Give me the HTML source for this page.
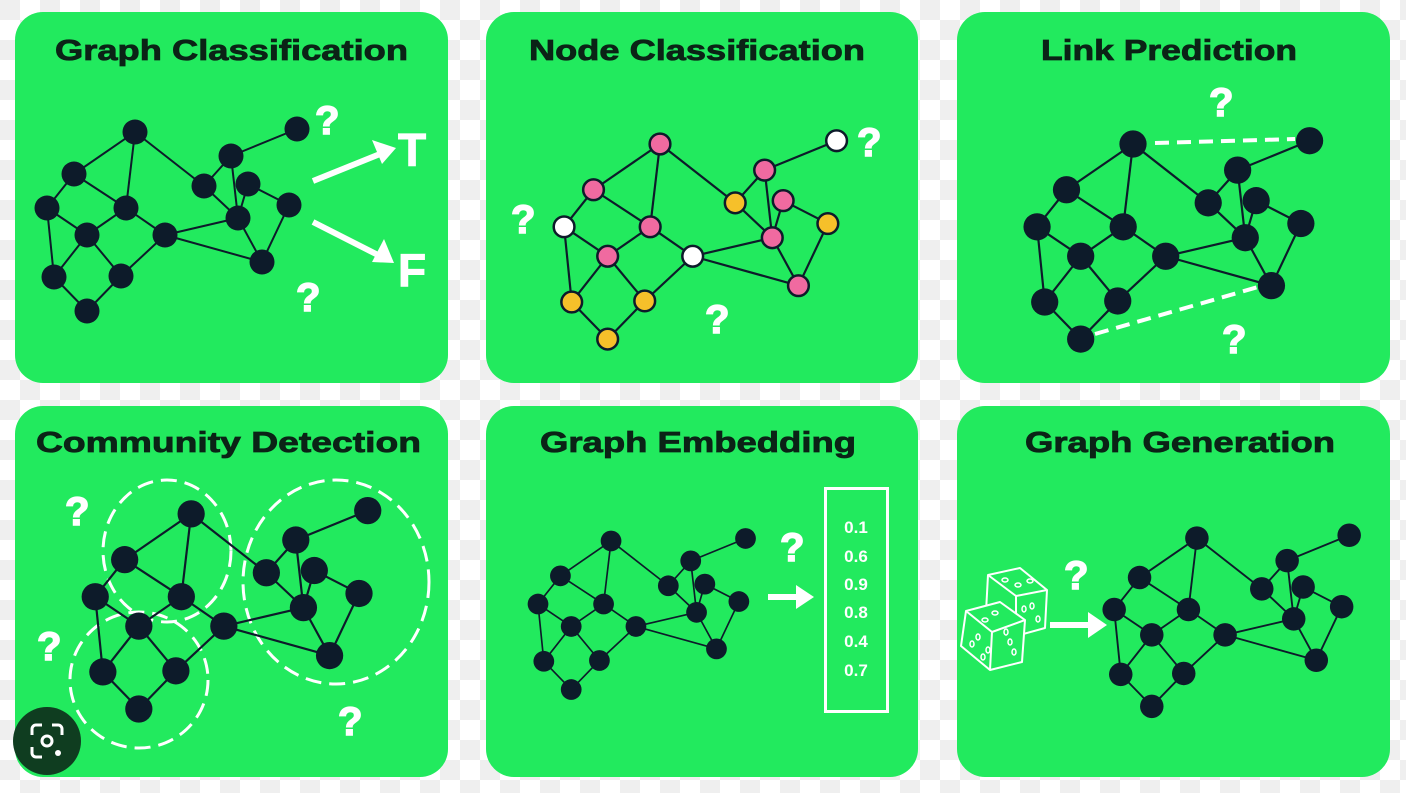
<!DOCTYPE html>
<html><head><meta charset="utf-8"><style>
html,body{margin:0;padding:0;width:1406px;height:793px;overflow:hidden;background:#fff}
svg{display:block}
.q{font-family:"Liberation Sans",sans-serif;font-weight:bold;fill:#fff;font-size:40px;stroke:#fff;stroke-width:1.5}
</style></head><body>
<svg width="1406" height="793" viewBox="0 0 1406 793" xmlns="http://www.w3.org/2000/svg">
<defs>
<pattern id="ck" width="40" height="40" patternUnits="userSpaceOnUse">
<rect width="40" height="40" fill="#ffffff"/><rect width="20" height="20" fill="#efefef"/><rect x="20" y="20" width="20" height="20" fill="#efefef"/>
</pattern>
<g id="E" stroke="#0d1b2a" stroke-width="2" fill="none">
<line x1="135" y1="132" x2="74" y2="174"/><line x1="135" y1="132" x2="126" y2="208"/><line x1="135" y1="132" x2="204" y2="186"/>
<line x1="74" y1="174" x2="47" y2="208"/><line x1="74" y1="174" x2="126" y2="208"/>
<line x1="47" y1="208" x2="87" y2="235"/><line x1="47" y1="208" x2="54" y2="277"/>
<line x1="126" y1="208" x2="87" y2="235"/><line x1="126" y1="208" x2="165" y2="235"/>
<line x1="87" y1="235" x2="121" y2="276"/><line x1="87" y1="235" x2="54" y2="277"/>
<line x1="54" y1="277" x2="87" y2="311"/><line x1="87" y1="311" x2="121" y2="276"/>
<line x1="121" y1="276" x2="165" y2="235"/><line x1="165" y1="235" x2="238" y2="218"/><line x1="165" y1="235" x2="262" y2="262"/>
<line x1="204" y1="186" x2="231" y2="156"/><line x1="204" y1="186" x2="238" y2="218"/>
<line x1="231" y1="156" x2="238" y2="218"/><line x1="231" y1="156" x2="297" y2="129"/>
<line x1="248" y1="184" x2="289" y2="205"/><line x1="248" y1="184" x2="238" y2="218"/>
<line x1="238" y1="218" x2="262" y2="262"/><line x1="289" y1="205" x2="262" y2="262"/>
</g>
<g id="N" fill="#0d1b2a">
<circle cx="135" cy="132" r="12.5"/><circle cx="74" cy="174" r="12.5"/><circle cx="47" cy="208" r="12.5"/><circle cx="126" cy="208" r="12.5"/>
<circle cx="87" cy="235" r="12.5"/><circle cx="165" cy="235" r="12.5"/><circle cx="54" cy="277" r="12.5"/><circle cx="121" cy="276" r="12.5"/>
<circle cx="87" cy="311" r="12.5"/><circle cx="204" cy="186" r="12.5"/><circle cx="231" cy="156" r="12.5"/><circle cx="248" cy="184" r="12.5"/>
<circle cx="238" cy="218" r="12.5"/><circle cx="289" cy="205" r="12.5"/><circle cx="262" cy="262" r="12.5"/><circle cx="297" cy="129" r="12.5"/>
</g>
</defs>
<rect width="1406" height="793" fill="url(#ck)"/>
<g fill="#22ea5e">
<rect x="15" y="12" width="433" height="371" rx="28"/>
<rect x="486" y="12" width="432" height="371" rx="28"/>
<rect x="957" y="12" width="433" height="371" rx="28"/>
<rect x="15" y="406" width="433" height="371" rx="28"/>
<rect x="486" y="406" width="432" height="371" rx="28"/>
<rect x="957" y="406" width="433" height="371" rx="28"/>
</g>
<g font-family="Liberation Sans, sans-serif" font-weight="bold" font-size="29" fill="#0b2316" stroke="#0b2316" stroke-width="0.8">
<text x="55" y="60" textLength="353" lengthAdjust="spacingAndGlyphs">Graph Classification</text>
<text x="529" y="60" textLength="336" lengthAdjust="spacingAndGlyphs">Node Classification</text>
<text x="1041" y="60" textLength="256" lengthAdjust="spacingAndGlyphs">Link Prediction</text>
<text x="36" y="452" textLength="385" lengthAdjust="spacingAndGlyphs">Community Detection</text>
<text x="540" y="452" textLength="316" lengthAdjust="spacingAndGlyphs">Graph Embedding</text>
<text x="1025" y="452" textLength="310" lengthAdjust="spacingAndGlyphs">Graph Generation</text>
</g>
<!-- panel 1 -->
<use href="#E"/><use href="#N"/>
<g stroke="#fff" stroke-width="6" fill="#fff">
<line x1="313" y1="181" x2="380" y2="154"/><polygon points="396,148 372,140 382,164" stroke="none"/>
<line x1="313" y1="222" x2="378" y2="255"/><polygon points="394,263 384,239 372,262" stroke="none"/>
</g>
<g font-family="Liberation Sans, sans-serif" font-weight="bold" fill="#fff" stroke="#fff" stroke-width="1">
<text x="398" y="166" font-size="46">T</text>
<text x="398" y="286" font-size="46">F</text>
</g>
<text class="q" x="315" y="134">?</text>
<text class="q" x="296" y="311">?</text>
<!-- panel 2 -->
<g transform="translate(512.85,0.1) scale(1.09)">
<use href="#E"/>
<g stroke="#0d1b2a" stroke-width="2.3">
<circle cx="135" cy="132" r="9.5" fill="#f06aa0"/><circle cx="74" cy="174" r="9.5" fill="#f06aa0"/><circle cx="47" cy="208" r="9.5" fill="#fff"/><circle cx="126" cy="208" r="9.5" fill="#f06aa0"/>
<circle cx="87" cy="235" r="9.5" fill="#f06aa0"/><circle cx="165" cy="235" r="9.5" fill="#fff"/><circle cx="54" cy="277" r="9.5" fill="#f6c02a"/><circle cx="121" cy="276" r="9.5" fill="#f6c02a"/>
<circle cx="87" cy="311" r="9.5" fill="#f6c02a"/><circle cx="204" cy="186" r="9.5" fill="#f6c02a"/><circle cx="231" cy="156" r="9.5" fill="#f06aa0"/><circle cx="248" cy="184" r="9.5" fill="#f06aa0"/>
<circle cx="238" cy="218" r="9.5" fill="#f06aa0"/><circle cx="289" cy="205" r="9.5" fill="#f6c02a"/><circle cx="262" cy="262" r="9.5" fill="#f06aa0"/><circle cx="297" cy="129" r="9.5" fill="#fff"/>
</g>
</g>
<text class="q" x="857" y="156">?</text><text class="q" x="511" y="233">?</text><text class="q" x="705" y="333">?</text>
<!-- panel 3 -->
<g stroke="#fff" stroke-width="4" stroke-dasharray="14,8">
<line x1="1155" y1="143" x2="1295" y2="139"/><line x1="1095" y1="334" x2="1258" y2="287"/>
</g>
<g transform="translate(985.85,0.1) scale(1.09)"><use href="#E"/><use href="#N"/></g>
<text class="q" x="1209" y="116">?</text><text class="q" x="1222" y="353">?</text>
<!-- panel 4 -->
<g stroke="#fff" stroke-width="3" fill="none" stroke-dasharray="16,8">
<ellipse cx="167" cy="551" rx="64" ry="71"/><ellipse cx="139" cy="680" rx="69" ry="68"/><ellipse cx="336" cy="582" rx="93" ry="102"/>
</g>
<g transform="translate(44,370) scale(1.09)"><use href="#E"/><use href="#N"/></g>
<text class="q" x="65" y="525">?</text><text class="q" x="37" y="660">?</text><text class="q" x="338" y="735">?</text>
<circle cx="47" cy="741" r="34" fill="#0f3d20"/>
<g stroke="#fff" stroke-width="3" fill="none">
<path d="M32 735 v-6 a4 4 0 0 1 4 -4 h6 M52 725 h6 a4 4 0 0 1 4 4 v6 M32 747 v6 a4 4 0 0 0 4 4 h6"/>
<circle cx="47" cy="741" r="5"/>
</g>
<circle cx="58" cy="753" r="3" fill="#fff"/>
<!-- panel 5 -->
<g transform="translate(499,431.4) scale(0.83)"><use href="#E"/><use href="#N"/></g>
<rect x="825.5" y="488.5" width="62" height="223" fill="none" stroke="#fff" stroke-width="3"/>
<g font-family="Liberation Sans, sans-serif" font-weight="bold" fill="#fff" font-size="17" text-anchor="middle">
<text x="856" y="533">0.1</text><text x="856" y="562">0.6</text><text x="856" y="590">0.9</text><text x="856" y="618">0.8</text><text x="856" y="647">0.4</text><text x="856" y="676">0.7</text>
</g>
<line x1="768" y1="597" x2="798" y2="597" stroke="#fff" stroke-width="6"/><polygon points="814,597 796,585 796,609" fill="#fff"/>
<text class="q" x="780" y="561">?</text>
<!-- panel 6 -->
<g transform="translate(1070,414) scale(0.94)"><use href="#E"/><use href="#N"/></g>
<line x1="1050" y1="625" x2="1090" y2="625" stroke="#fff" stroke-width="6"/><polygon points="1107,625 1088,612 1088,638" fill="#fff"/>
<text class="q" x="1064" y="589">?</text>
<g stroke="#fff" stroke-width="2" fill="#22ea5e" stroke-linejoin="round">
<path d="M988 575 L1020 568 L1047 590 L1045 628 L1016 636 L986 612 Z"/>
<path d="M988 575 L1016 596 L1047 590 M1016 596 L1016 636"/>
<path d="M966 611 L1000 602 L1025 620 L1022 662 L990 670 L961 646 Z"/>
<path d="M966 611 L992 632 L1025 620 M992 632 L990 670"/>
</g>
<g fill="none" stroke="#fff" stroke-width="1.5">
<ellipse cx="1005" cy="580" rx="3" ry="2"/><ellipse cx="1018" cy="585" rx="3" ry="2"/><ellipse cx="1030" cy="581" rx="3" ry="2"/>
<ellipse cx="1032" cy="606" rx="2" ry="3"/><ellipse cx="1038" cy="619" rx="2" ry="3"/><ellipse cx="1024" cy="609" rx="2" ry="3"/>
<ellipse cx="985" cy="620" rx="3" ry="2"/><ellipse cx="995" cy="613" rx="3" ry="2"/>
<ellipse cx="1006" cy="632" rx="2" ry="3"/><ellipse cx="1014" cy="652" rx="2" ry="3"/><ellipse cx="1010" cy="642" rx="2" ry="3"/>
<ellipse cx="972" cy="644" rx="2" ry="3"/><ellipse cx="983" cy="657" rx="2" ry="3"/><ellipse cx="978" cy="637" rx="2" ry="3"/><ellipse cx="988" cy="650" rx="2" ry="3"/>
</g>
</svg>
</body></html>
